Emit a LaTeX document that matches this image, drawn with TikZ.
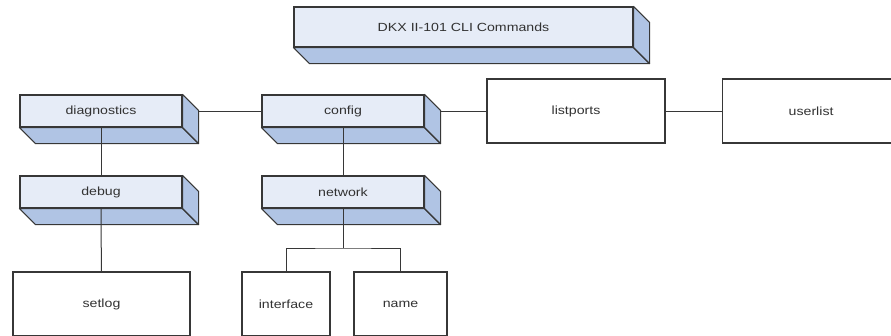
\documentclass[tikz,border=0pt]{standalone}
\usepackage{fontspec}
\setmainfont[FakeStretch=1.2]{Liberation Sans}
\usetikzlibrary{positioning}

\definecolor{frontblue}{RGB}{230,236,247}
\definecolor{sideblue}{RGB}{176,196,228}
\definecolor{edgegray}{RGB}{55,55,55}
\definecolor{textgray}{RGB}{50,50,50}

% raised command box: front face plus bottom and right faces
\newcommand{\cmdbox}[4][]{%
  \node[cmd, #1] (#2) at (#3) {#4};
  \draw[face] (#2.south west) -- ++(16,16) -- ([shift={(16,16)}]#2.south east) -- (#2.south east) -- cycle;
  \draw[face] (#2.north east) -- ++(16,16) -- ([shift={(16,16)}]#2.south east) -- (#2.south east) -- cycle;
}

\begin{document}
\begin{tikzpicture}[
    x=1pt, y=-1pt,
    every node/.style={font=\fontsize{11.8}{13}\selectfont, text=textgray, inner sep=0pt},
    cmd/.style={draw=edgegray, fill=frontblue, line width=1.1pt, minimum width=162pt, minimum height=32pt},
    face/.style={draw=edgegray, fill=sideblue, line width=1.1pt, line join=round},
    leaf/.style={draw=edgegray, fill=white, line width=1.1pt, minimum width=178pt, minimum height=64pt},
    link/.style={draw=edgegray, line width=1pt}
]
\useasboundingbox (0,0) rectangle (891,335);
\clip (0,0) rectangle (891,335);

% Nodes
\cmdbox[minimum width=339pt, minimum height=40pt]{title}{463.5,27}{DKX II-101 CLI Commands}

\cmdbox{diagnostics}{101,111}{diagnostics}
\cmdbox{config}{343,111}{config}
\cmdbox{debug}{101,192}{debug}
\cmdbox{network}{343,192}{network}

\node[leaf] (listports) at (576,111) {listports};
\node[leaf] (userlist) [right=56pt of listports] {userlist};

\node[leaf, minimum width=177pt] (setlog) at (101.5,304) {setlog};
\node[leaf, minimum width=88pt] (interface) at (286,304) {interface};
\node[leaf, minimum width=93pt] (name) at (400.5,304) {name};

\coordinate (fork) at (343,248);

% Lines
\draw[link] ([xshift=16pt]diagnostics.east) -- (config.west);
\draw[link] ([xshift=16pt]config.east) -- (listports.west);
\draw[link] (listports) -- (userlist);

\draw[link] (diagnostics) -- (debug);
\draw[link] (debug) -- (setlog);
\draw[link] (config) -- (network);

\draw[link] (network) -- (fork);
\draw[link] (interface) |- (fork) -| (name);

\end{tikzpicture}
\end{document}
